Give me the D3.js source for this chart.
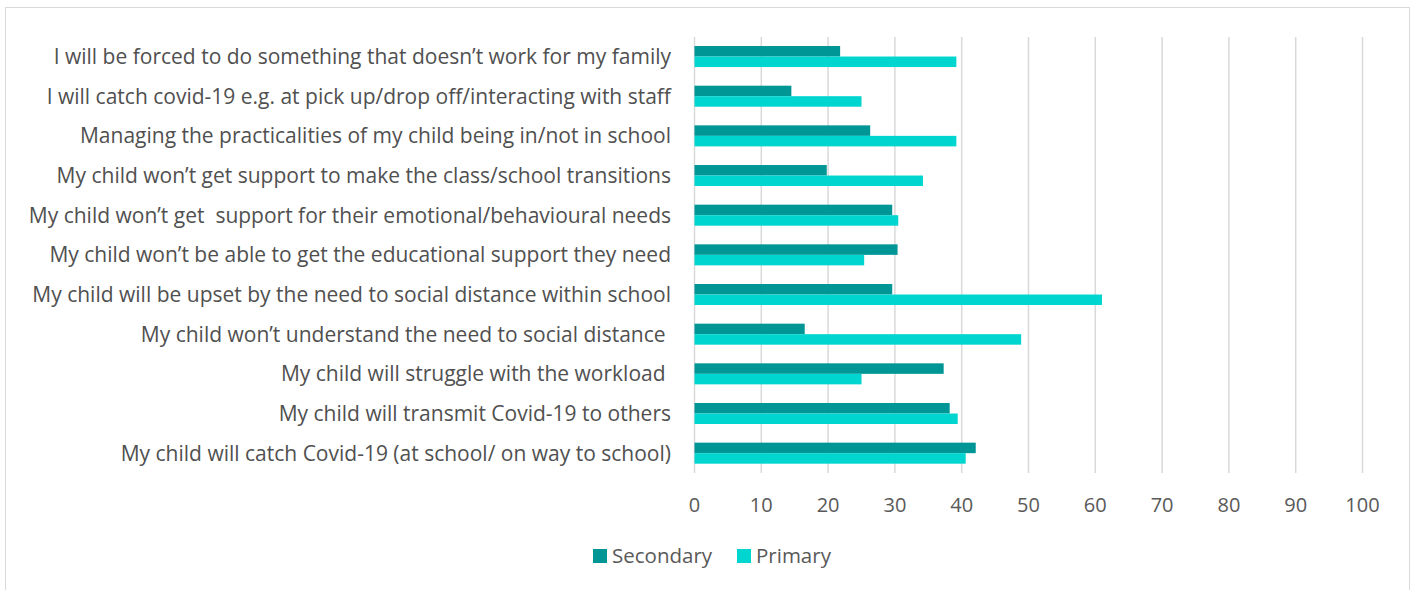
<!DOCTYPE html>
<html>
<head>
<meta charset="utf-8">
<script src="https://cdn.jsdelivr.net/npm/d3@7"></script>
<style>
  body { margin: 0; background: #fff; }
  text { font-family: 'Open Sans', sans-serif; }
</style>
</head>
<body>
<div class="chart"></div>
<script>
const categories = [
  'I will be forced to do something that doesn\u2019t work for my family',
  'I will catch covid-19 e.g. at pick up/drop off/interacting with staff',
  'Managing the practicalities of my child being in/not in school',
  'My child won\u2019t get support to make the class/school transitions',
  'My child won\u2019t get  support for their emotional/behavioural needs',
  'My child won\u2019t be able to get the educational support they need',
  'My child will be upset by the need to social distance within school',
  'My child won\u2019t understand the need to social distance ',
  'My child will struggle with the workload ',
  'My child will transmit Covid-19 to others',
  'My child will catch Covid-19 (at school/ on way to school)'
];
const secondary = [21.8, 14.5, 26.3, 19.8, 29.6, 30.4, 29.6, 16.5, 37.3, 38.2, 42.1];
const primary = [39.2, 25.0, 39.2, 34.2, 30.5, 25.4, 61.0, 48.9, 25.0, 39.4, 40.6];
const ticks = [0, 10, 20, 30, 40, 50, 60, 70, 80, 90, 100];
const seriesNames = ['Secondary', 'Primary'];
const colors = ['#009696', '#00d5cf'];

const width = 1415;
const height = 590;

const svg = d3
  .select('.chart')
  .append('svg')
  .attr('width', width)
  .attr('height', height);

// outer frame
svg
  .append('rect')
  .attr('x', 5.5)
  .attr('y', 7.5)
  .attr('width', 1404)
  .attr('height', 600)
  .attr('fill', 'none')
  .attr('stroke', '#d9d9d9');

const x = d3.scaleLinear().domain([0, 100]).range([694.5, 1362.5]);
const y = d3
  .scaleBand()
  .domain(categories)
  .range([36.7, 473])
  .paddingInner(0.47)
  .paddingOuter(0.235);

// gridlines
svg
  .selectAll('.grid')
  .data(ticks)
  .enter()
  .append('line')
  .attr('x1', (d) => x(d))
  .attr('x2', (d) => x(d))
  .attr('y1', 37)
  .attr('y2', 473)
  .attr('stroke', '#d9d9d9')
  .attr('stroke-width', 1.5);

const rows = categories.map((c, i) => {
  return { cat: c, values: [secondary[i], primary[i]] };
});

const sub = d3.scaleBand().domain([0, 1]).range([0, y.bandwidth()]);

const groups = svg
  .selectAll('.row')
  .data(rows)
  .enter()
  .append('g')
  .attr('transform', (d) => 'translate(0,' + y(d.cat) + ')');

groups
  .selectAll('rect')
  .data((d) => d.values)
  .enter()
  .append('rect')
  .attr('x', x(0))
  .attr('y', (d, i) => sub(i))
  .attr('width', (d) => x(d) - x(0))
  .attr('height', sub.bandwidth())
  .attr('fill', (d, i) => colors[i]);

// category labels
svg
  .selectAll('.cat')
  .data(categories)
  .enter()
  .append('text')
  .attr('x', 671)
  .attr('y', (d) => y(d) + y.bandwidth() / 2)
  .attr('dy', '0.35em')
  .attr('text-anchor', 'end')
  .attr('font-size', 21)
  .attr('fill', '#505050')
  .style('white-space', 'pre')
  .text((d) => d);

// tick labels
svg
  .selectAll('.tick')
  .data(ticks)
  .enter()
  .append('text')
  .attr('x', (d) => x(d))
  .attr('y', 505)
  .attr('dy', '0.35em')
  .attr('text-anchor', 'middle')
  .attr('font-size', 20)
  .attr('fill', '#595959')
  .text((d) => d);

// legend
const legendX = [593, 737];
const legend = svg
  .selectAll('.legend')
  .data(seriesNames)
  .enter()
  .append('g')
  .attr('transform', (d, i) => 'translate(' + legendX[i] + ',556)');

legend
  .append('rect')
  .attr('x', 0)
  .attr('y', -7)
  .attr('width', 14)
  .attr('height', 14)
  .attr('fill', (d, i) => colors[i]);

legend
  .append('text')
  .attr('x', 19)
  .attr('dy', '0.35em')
  .attr('font-size', 20.5)
  .attr('fill', '#595959')
  .text((d) => d);
</script>
</body>
</html>
